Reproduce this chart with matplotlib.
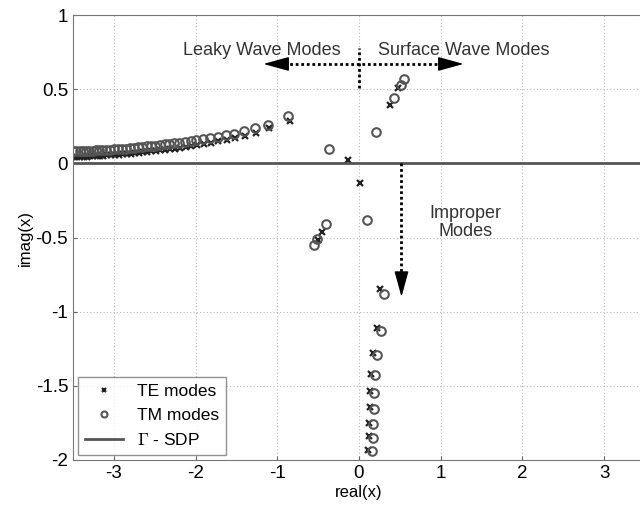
import matplotlib
matplotlib.use('Agg')
import matplotlib.pyplot as plt

plt.rcParams['font.family'] = ['Liberation Sans', 'DejaVu Sans']
plt.rcParams['mathtext.fontset'] = 'cm'

# TM modes (circles): leaky branch, then the isolated / surface / improper modes
tm_x = [-0.87, -1.11, -1.27, -1.41, -1.53, -1.63, -1.73, -1.82, -1.91, -1.99,
        -2.06, -2.13, -2.20, -2.26, -2.32, -2.38, -2.44, -2.50, -2.55, -2.60,
        -2.65, -2.70, -2.75, -2.80, -2.85, -2.90, -2.95, -3.00, -3.05, -3.10,
        -3.14, -3.18, -3.22, -3.26, -3.30, -3.34, -3.38, -3.42, -3.46, -3.50,
        -0.37, 0.21, 0.43, 0.51, 0.55, 0.10, -0.40, -0.51, -0.55,
        0.30, 0.27, 0.22, 0.20, 0.18, 0.18, 0.17, 0.17, 0.155]
tm_y = [0.32, 0.26, 0.235, 0.215, 0.20, 0.19, 0.18, 0.17, 0.162, 0.155,
        0.150, 0.145, 0.140, 0.136, 0.132, 0.128, 0.124, 0.120, 0.117, 0.114,
        0.111, 0.108, 0.105, 0.103, 0.100, 0.098, 0.096, 0.094, 0.092, 0.090,
        0.089, 0.088, 0.087, 0.086, 0.085, 0.084, 0.083, 0.082, 0.081, 0.080,
        0.10, 0.21, 0.44, 0.53, 0.57, -0.38, -0.41, -0.51, -0.55,
        -0.88, -1.13, -1.29, -1.43, -1.545, -1.655, -1.76, -1.85, -1.94]

# TE modes (crosses)
te_x = [-0.85, -1.10, -1.26, -1.40, -1.52, -1.62, -1.72, -1.81, -1.90, -1.98,
        -2.05, -2.12, -2.19, -2.25, -2.31, -2.37, -2.43, -2.49, -2.54, -2.59,
        -2.64, -2.69, -2.74, -2.79, -2.84, -2.89, -2.94, -2.99, -3.04, -3.09,
        -3.13, -3.17, -3.21, -3.25, -3.29, -3.33, -3.37, -3.41, -3.45, -3.49,
        -0.13, 0.01, 0.38, 0.48, -0.45, -0.50,
        0.26, 0.22, 0.17, 0.15, 0.13, 0.13, 0.12, 0.12, 0.105]
te_y = [0.285, 0.235, 0.205, 0.185, 0.170, 0.158, 0.148, 0.138, 0.130, 0.122,
        0.116, 0.110, 0.105, 0.100, 0.095, 0.091, 0.087, 0.083, 0.080, 0.077,
        0.074, 0.071, 0.068, 0.066, 0.063, 0.061, 0.059, 0.057, 0.055, 0.053,
        0.052, 0.050, 0.049, 0.048, 0.047, 0.046, 0.045, 0.044, 0.043, 0.042,
        0.02, -0.135, 0.39, 0.51, -0.46, -0.52,
        -0.85, -1.11, -1.28, -1.42, -1.535, -1.645, -1.75, -1.84, -1.93]

sdp_x = [-3.5, 3.5]
sdp_y = [0, 0]

fig = plt.figure(figsize=(6.4, 5.17), dpi=100)
ax = fig.add_axes([73 / 640, 57 / 517, 572 / 640, 445 / 517])

ax.grid(True, color='#b8b8b8', linestyle=(0, (1, 2)), linewidth=0.8)
ax.set_axisbelow(True)

ax.plot(te_x, te_y, 'x', color='#222222', ms=4.5, mew=1.6, label='TE modes')
ax.plot(tm_x, tm_y, 'o', mfc='none', mec='#555555', ms=6.2, mew=1.5, label='TM modes')
ax.plot(sdp_x, sdp_y, '-', color='#555555', lw=2, label=r'$\Gamma$ - SDP')

ax.set_xlim(-3.5, 3.5)
ax.set_ylim(-2, 1)
ax.set_xticks([-3, -2, -1, 0, 1, 2, 3])
ax.set_yticks([-2, -1.5, -1, -0.5, 0, 0.5, 1])
ax.set_yticklabels(['-2', '-1.5', '-1', '-0.5', '0', '0.5', '1'])
ax.set_xticklabels(['-3', '-2', '-1', '0', '1', '2', '3'])
ax.tick_params(labelsize=13.5, length=3, color='#666666', direction='in')
for sp in ax.spines.values():
    sp.set_color('#777777')
ax.set_xlabel('real(x)', fontsize=12, labelpad=2)
ax.set_ylabel('imag(x)', fontsize=12, labelpad=2)

# dotted shafts, then solid heads on top
dot = dict(color='black', lw=2, linestyle=(0, (1, 1)))
ax.plot([-1.05, 1.16], [0.67, 0.67], **dot)
ax.plot([0, 0], [0.51, 0.78], **dot)
ax.plot([0.52, 0.52], [0, -0.82], **dot)
head = dict(arrowstyle='-|>,head_length=0.8,head_width=0.22', lw=1, color='black',
            mutation_scale=20, shrinkA=0, shrinkB=0)
ax.annotate('', xy=(-1.17, 0.67), xytext=(-1.0, 0.67), arrowprops=head)
ax.annotate('', xy=(1.28, 0.67), xytext=(1.11, 0.67), arrowprops=head)
ax.annotate('', xy=(0.52, -0.90), xytext=(0.52, -0.80), arrowprops=head)

ax.text(-0.22, 0.76, 'Leaky Wave Modes', ha='right', va='center', fontsize=13, color='#333333')
ax.text(0.23, 0.76, 'Surface Wave Modes', ha='left', va='center', fontsize=13, color='#333333')
ax.text(1.30, -0.40, 'Improper\nModes', ha='center', va='center', fontsize=13,
        color='#333333', linespacing=1.1)

ax.legend(loc='lower left', fontsize=12.5, frameon=True, fancybox=False,
          edgecolor='#777777', borderaxespad=0.3, handlelength=2.2, markerscale=0.7)

fig.savefig('out.png', dpi=100)
